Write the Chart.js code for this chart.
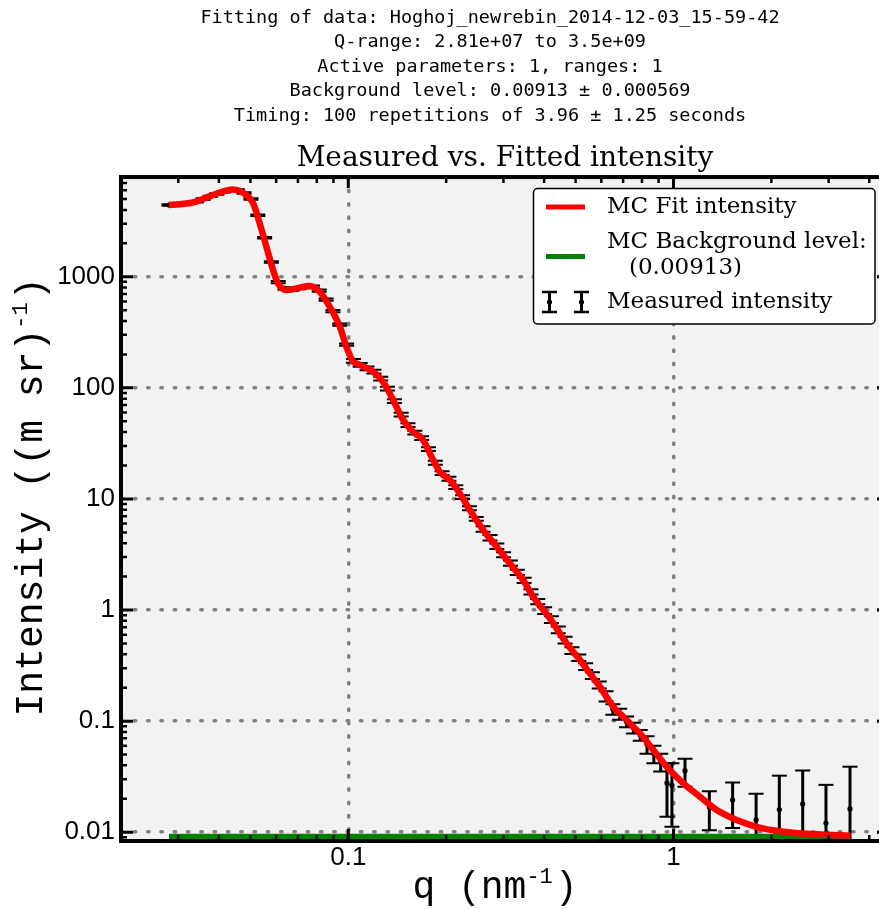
<!DOCTYPE html>
<html><head><meta charset="utf-8">
<script src="https://cdn.jsdelivr.net/npm/chart.js@4"></script>
<style>html,body{margin:0;padding:0;overflow:hidden;background:#fff}#wrap{width:980px;height:909px}</style>
</head><body><div id="wrap"><canvas id="c" width="980" height="909"></canvas></div>
<script>
// ---------- text ----------
const headerLines = [
  'Fitting of data: Hoghoj_newrebin_2014-12-03_15-59-42',
  'Q-range: 2.81e+07 to 3.5e+09',
  'Active parameters: 1, ranges: 1',
  'Background level: 0.00913 \u00b1 0.000569',
  'Timing: 100 repetitions of 3.96 \u00b1 1.25 seconds'
];
const chartTitle = 'Measured vs. Fitted intensity';
// axis titles: [base text, superscript, closing text]
const xAxisTitle = ['q (nm', '-1', ')'];
const yAxisTitle = ['Intensity ((m sr)', '-1', ')'];
const xTickLabels = ['0.1', '1'];
const yTickLabels = ['0.01', '0.1', '1', '10', '100', '1000'];
const legendLabels = ['MC Fit intensity', 'MC Background level:', '(0.00913)', 'Measured intensity'];

// ---------- data ----------
const measQ = [0.0281,0.0295,0.0310,0.0325,0.0341,0.0358,0.0376,0.0394,0.0414,0.0434,
  0.0456,0.0478,0.0502,0.0527,0.0553,0.0580,0.0609,0.0639,0.0671,0.0704,
  0.0739,0.0776,0.0814,0.0855,0.0897,0.0941,0.0988,0.1037,0.1088,0.1142,
  0.1199,0.1258,0.1320,0.1386,0.1454,0.1526,0.1602,0.1681,0.1764,0.1852,
  0.1943,0.2039,0.2141,0.2247,0.2358,0.2475,0.2598,0.2727,0.2862,0.3003,
  0.3152,0.3309,0.3473,0.3645,0.3825,0.4015,0.4214,0.4423,0.4642,0.4872,
  0.5113,0.5367,0.5632,0.5912,0.6205,0.6512,0.6834,0.7173,0.7528,0.7901,
  0.8292,0.8703,0.9134,0.955,0.989,1.085,1.289,1.52,1.795,2.116,2.497,2.944,3.49];
const measI = [4420,4485,4560,4636,4733,5006,5293,5552,5811,6057,
  6032,5667,5006,3577,2248,1359,896,786,767,791,
  808,816,751,623,491,371,245,175,161,150,
  140,121,98.6,76.1,57.4,46.3,39.6,35.3,28.1,21.2,
  17.1,15.2,12.8,10.4,8.25,6.61,5.38,4.48,3.76,3.15,
  2.65,2.19,1.85,1.46,1.19,0.990,0.821,0.665,0.538,0.433,
  0.373,0.310,0.257,0.212,0.168,0.128,0.116,0.099,0.087,0.075,
  0.062,0.051,0.043,0.0278,0.0265,0.0358,0.0169,0.0195,0.0129,0.0160,0.0180,0.0121,0.0162];
const measErr = [66,67,68,70,71,75,79,83,87,91,
  90,85,75,54,34,20,22,20,19,20,
  20,20,19,16,12,9.3,6.1,7.0,6.4,6.0,
  5.6,4.8,3.9,3.0,2.3,1.85,1.58,1.41,1.12,0.85,
  0.68,0.61,0.51,0.42,0.33,0.26,0.30,0.25,0.21,0.17,
  0.15,0.12,0.10,0.080,0.065,0.069,0.057,0.047,0.038,0.030,
  0.026,0.022,0.018,0.015,0.018,0.014,0.013,0.011,0.0096,0.0083,
  0.011,0.0092,0.0078,0.0140,0.0153,0.0101,0.0065,0.0086,0.0093,0.0163,0.0179,0.0146,0.0227];

const fitQ = [0.0281,0.0333,0.0383,0.0441,0.0486,0.0510,0.0534,0.0560,0.0587,0.0608,
  0.0645,0.0693,0.0761,0.0817,0.0877,0.0942,0.0987,0.1035,0.1060,0.1192,
  0.1280,0.1374,0.1475,0.1582,0.1699,0.1824,0.1912,0.2053,0.2203,0.2365,
  0.2600,0.2858,0.3140,0.3450,0.3703,0.4169,0.4692,0.5157,0.5533,0.5940,
  0.6529,0.7007,0.7519,0.7889,0.8666,0.9528,1.072,1.206,1.358,1.565,
  1.803,2.178,2.758,3.50];
const fitI = [4420,4677,5435,6119,5435,4580,3025,1862,1149,872,
  759,786,825,733,537,355,234,172,166,140,
  113,77.7,51.3,40.3,33.9,22.4,17.6,14.8,11.2,7.94,
  5.25,3.72,2.63,1.86,1.318,0.841,0.501,0.355,0.269,0.204,
  0.135,0.1096,0.0891,0.0776,0.0550,0.0389,0.0275,0.0209,0.01585,0.0129,
  0.0112,0.0101,0.00957,0.0093];

const bkgQ = [0.0281, 3.5];
const bkgI = [0.00913, 0.00913];

const xMin = 0.02, xMax = 4.6, yMin = 0.00834, yMax = 7900;

// ---------- helpers ----------
const isMajor = v => Math.abs(Math.log10(v) - Math.round(Math.log10(v))) < 1e-9;
function logTicks(min, max) {
  const out = [];
  for (let e = Math.floor(Math.log10(min)); e <= Math.ceil(Math.log10(max)); e++) {
    for (let m = 1; m <= 9; m++) {
      const v = +(m * Math.pow(10, e)).toPrecision(6);
      if (v >= min && v <= max) out.push({value: v, major: m === 1});
    }
  }
  return out;
}
const labelFor = (list, v) => list.find(l => Math.abs(parseFloat(l) / v - 1) < 1e-6) || '';
const toXY = (qs, is) => qs.map((q, i) => ({x: q, y: is[i]}));

const AX_FONT = '38px "Liberation Mono", "DejaVu Sans Mono", monospace';
const SUP_FONT = '22px "Liberation Mono", "DejaVu Sans Mono", monospace';
function drawAxisTitle(ctx, parts, cx, cy, baselineOffset, vertical) {
  ctx.save();
  ctx.fillStyle = '#000';
  ctx.textBaseline = 'alphabetic'; ctx.textAlign = 'left';
  ctx.font = AX_FONT; const w1 = ctx.measureText(parts[0]).width, w3 = ctx.measureText(parts[2]).width;
  ctx.font = SUP_FONT; const w2 = ctx.measureText(parts[1]).width;
  const total = w1 + w2 + 2 + w3;
  if (vertical) { ctx.translate(baselineOffset, cy); ctx.rotate(-Math.PI / 2); }
  else { ctx.translate(cx, baselineOffset); }
  let x0 = -total / 2;
  ctx.font = AX_FONT; ctx.fillText(parts[0], x0, 0);
  ctx.font = SUP_FONT; ctx.fillText(parts[1], x0 + w1, -15);
  ctx.font = AX_FONT; ctx.fillText(parts[2], x0 + w1 + w2 + 2, 0);
  ctx.restore();
}

const decor = {
  id: 'decor',
  beforeDraw(chart) {
    const {ctx, chartArea: a} = chart;
    ctx.save();
    ctx.fillStyle = '#f2f2f2';
    ctx.fillRect(a.left, a.top, a.right - a.left, a.bottom - a.top);
    ctx.restore();
    ctx.lineCap = 'round';
  },
  beforeDatasetDraw(chart, args) {
    if (args.index !== 2) return;
    const {ctx, chartArea: a, scales: {x, y}} = chart;
    ctx.save();
    ctx.beginPath(); ctx.rect(a.left, a.top, a.right - a.left, a.bottom - a.top); ctx.clip();
    ctx.strokeStyle = '#000'; ctx.lineCap = 'butt';
    for (let i = 0; i < measQ.length; i++) {
      const px = x.getPixelForValue(measQ[i]);
      const hi = measI[i] + measErr[i], lo = measI[i] - measErr[i];
      const pHi = y.getPixelForValue(hi);
      const pLo = lo > 0 ? y.getPixelForValue(lo) : a.bottom + 20;
      ctx.lineWidth = 3;
      ctx.beginPath(); ctx.moveTo(px, pHi); ctx.lineTo(px, pLo); ctx.stroke();
      ctx.lineWidth = 2;
      ctx.beginPath(); ctx.moveTo(px - 7.5, pHi); ctx.lineTo(px + 7.5, pHi);
      if (lo > 0) { ctx.moveTo(px - 7.5, pLo); ctx.lineTo(px + 7.5, pLo); }
      ctx.stroke();
    }
    ctx.restore();
  },
  afterDatasetsDraw(chart) {
    const {ctx, chartArea: a, scales: {x, y}} = chart;
    ctx.save();
    ctx.strokeStyle = '#000'; ctx.lineCap = 'butt';
    for (const t of y.ticks) {
      const p = y.getPixelForValue(t.value), mj = isMajor(t.value);
      ctx.lineWidth = mj ? 3 : 2.5;
      ctx.beginPath(); ctx.moveTo(a.left, p); ctx.lineTo(a.left + (mj ? 12 : 6), p);
      ctx.moveTo(a.right, p); ctx.lineTo(a.right - (mj ? 12 : 6), p); ctx.stroke();
    }
    for (const t of x.ticks) {
      const p = x.getPixelForValue(t.value), mj = isMajor(t.value);
      ctx.lineWidth = mj ? 3 : 2.5;
      ctx.beginPath(); ctx.moveTo(p, a.bottom); ctx.lineTo(p, a.bottom - (mj ? 12 : 6));
      ctx.moveTo(p, a.top); ctx.lineTo(p, a.top + (mj ? 11 : 6)); ctx.stroke();
    }
    ctx.lineWidth = 4;
    ctx.strokeRect(a.left, a.top, a.right - a.left, a.bottom - a.top);
    ctx.restore();
  },
  afterDraw(chart) {
    const ctx = chart.ctx;
    const a = chart.chartArea;
    drawAxisTitle(ctx, xAxisTitle, (a.left + a.right) / 2 - 10, 0, 898, false);
    drawAxisTitle(ctx, yAxisTitle, 0, 497, 42, true);
    ctx.save();
    const bx = 533.5, by = 188.5, bw = 341.5, bh = 135.5, r = 4;
    ctx.beginPath();
    ctx.moveTo(bx + r, by); ctx.lineTo(bx + bw - r, by); ctx.arcTo(bx + bw, by, bx + bw, by + r, r);
    ctx.lineTo(bx + bw, by + bh - r); ctx.arcTo(bx + bw, by + bh, bx + bw - r, by + bh, r);
    ctx.lineTo(bx + r, by + bh); ctx.arcTo(bx, by + bh, bx, by + bh - r, r);
    ctx.lineTo(bx, by + r); ctx.arcTo(bx, by, bx + r, by, r); ctx.closePath();
    ctx.fillStyle = '#fff'; ctx.fill();
    ctx.lineWidth = 1.5; ctx.strokeStyle = '#000'; ctx.stroke();
    ctx.lineCap = 'butt';
    ctx.lineWidth = 5;
    ctx.strokeStyle = '#ff0000';
    ctx.beginPath(); ctx.moveTo(546, 207); ctx.lineTo(585, 207); ctx.stroke();
    ctx.strokeStyle = '#008000';
    ctx.beginPath(); ctx.moveTo(546, 256.5); ctx.lineTo(585, 256.5); ctx.stroke();
    ctx.strokeStyle = '#000';
    for (const ex of [549.5, 581.5]) {
      ctx.lineWidth = 3;
      ctx.beginPath(); ctx.moveTo(ex, 292); ctx.lineTo(ex, 312); ctx.stroke();
      ctx.lineWidth = 2.5;
      ctx.beginPath(); ctx.moveTo(ex - 7.5, 292); ctx.lineTo(ex + 7.5, 292);
      ctx.moveTo(ex - 7.5, 312); ctx.lineTo(ex + 7.5, 312); ctx.stroke();
      ctx.beginPath(); ctx.arc(ex, 302, 2.6, 0, Math.PI * 2); ctx.fillStyle = '#000'; ctx.fill();
    }
    ctx.fillStyle = '#000';
    ctx.font = '23px "DejaVu Serif"';
    ctx.textBaseline = 'middle'; ctx.textAlign = 'left';
    ctx.fillText(legendLabels[0], 607, 207);
    ctx.fillText(legendLabels[1], 607, 242);
    ctx.fillText(legendLabels[2], 629, 268);
    ctx.fillText(legendLabels[3], 607, 302);
    ctx.restore();
  }
};

const gridColor = c => (c.tick && isMajor(c.tick.value)) ? '#808080' : 'rgba(0,0,0,0)';

new Chart(document.getElementById('c'), {
  type: 'scatter',
  data: {
    datasets: [
      {label: legendLabels[0], data: toXY(fitQ, fitI), showLine: true, borderColor: '#ff0000',
       borderWidth: 6.5, pointRadius: 0, cubicInterpolationMode: 'monotone', fill: false},
      {label: legendLabels[1], data: toXY(bkgQ, bkgI), showLine: true, borderColor: '#008000',
       borderWidth: 6, pointRadius: 0, fill: false},
      {label: legendLabels[3], data: toXY(measQ, measI), showLine: false, pointRadius: 2.6,
       pointBackgroundColor: '#000', pointBorderWidth: 0, borderColor: '#000'}
    ]
  },
  options: {
    responsive: false, animation: false, events: [],
    layout: {padding: 0},
    plugins: {
      legend: {display: false}, tooltip: {enabled: false},
      title: {display: true, text: headerLines, color: '#000', fullSize: true,
        font: {family: '"DejaVu Sans Mono", monospace', size: 18.5, weight: 'normal', lineHeight: '24.5px'},
        padding: {top: 5.75, bottom: 0}},
      subtitle: {display: true, text: chartTitle, color: '#000', fullSize: false,
        font: {family: '"DejaVu Serif", serif', size: 28, weight: 'normal', lineHeight: 1.2},
        padding: {top: 14, bottom: 1.2}}
    },
    scales: {
      x: {type: 'logarithmic', position: 'bottom', min: xMin, max: xMax,
        afterBuildTicks: s => { s.ticks = logTicks(xMin, xMax); },
        afterFit: s => { s.height = 68; },
        ticks: {autoSkip: false, maxRotation: 0, minRotation: 0, padding: 1.5, color: '#000',
          font: {family: '"Liberation Sans", Arial, sans-serif', size: 26},
          callback: v => labelFor(xTickLabels, v)},
        grid: {color: gridColor, lineWidth: 3.5, drawTicks: false},
        border: {display: false, dash: [1.5, 11.8]},
        title: {display: false}
      },
      y: {type: 'logarithmic', position: 'left', min: yMin, max: yMax,
        afterBuildTicks: s => { s.ticks = logTicks(yMin, yMax); },
        afterFit: s => { s.width = 121; },
        ticks: {autoSkip: false, padding: 6, color: '#000',
          font: {family: '"Liberation Sans", Arial, sans-serif', size: 26},
          callback: v => labelFor(yTickLabels, v)},
        grid: {color: gridColor, lineWidth: 3.5, drawTicks: false},
        border: {display: false, dash: [1.5, 11.8]},
        title: {display: false}
      },
      y2: {type: 'linear', position: 'right', min: 0, max: 1, display: true,
        afterFit: s => { s.width = 91; },
        ticks: {display: false}, grid: {display: false}, border: {display: false}}
    }
  },
  plugins: [decor]
});
</script>
</body></html>
